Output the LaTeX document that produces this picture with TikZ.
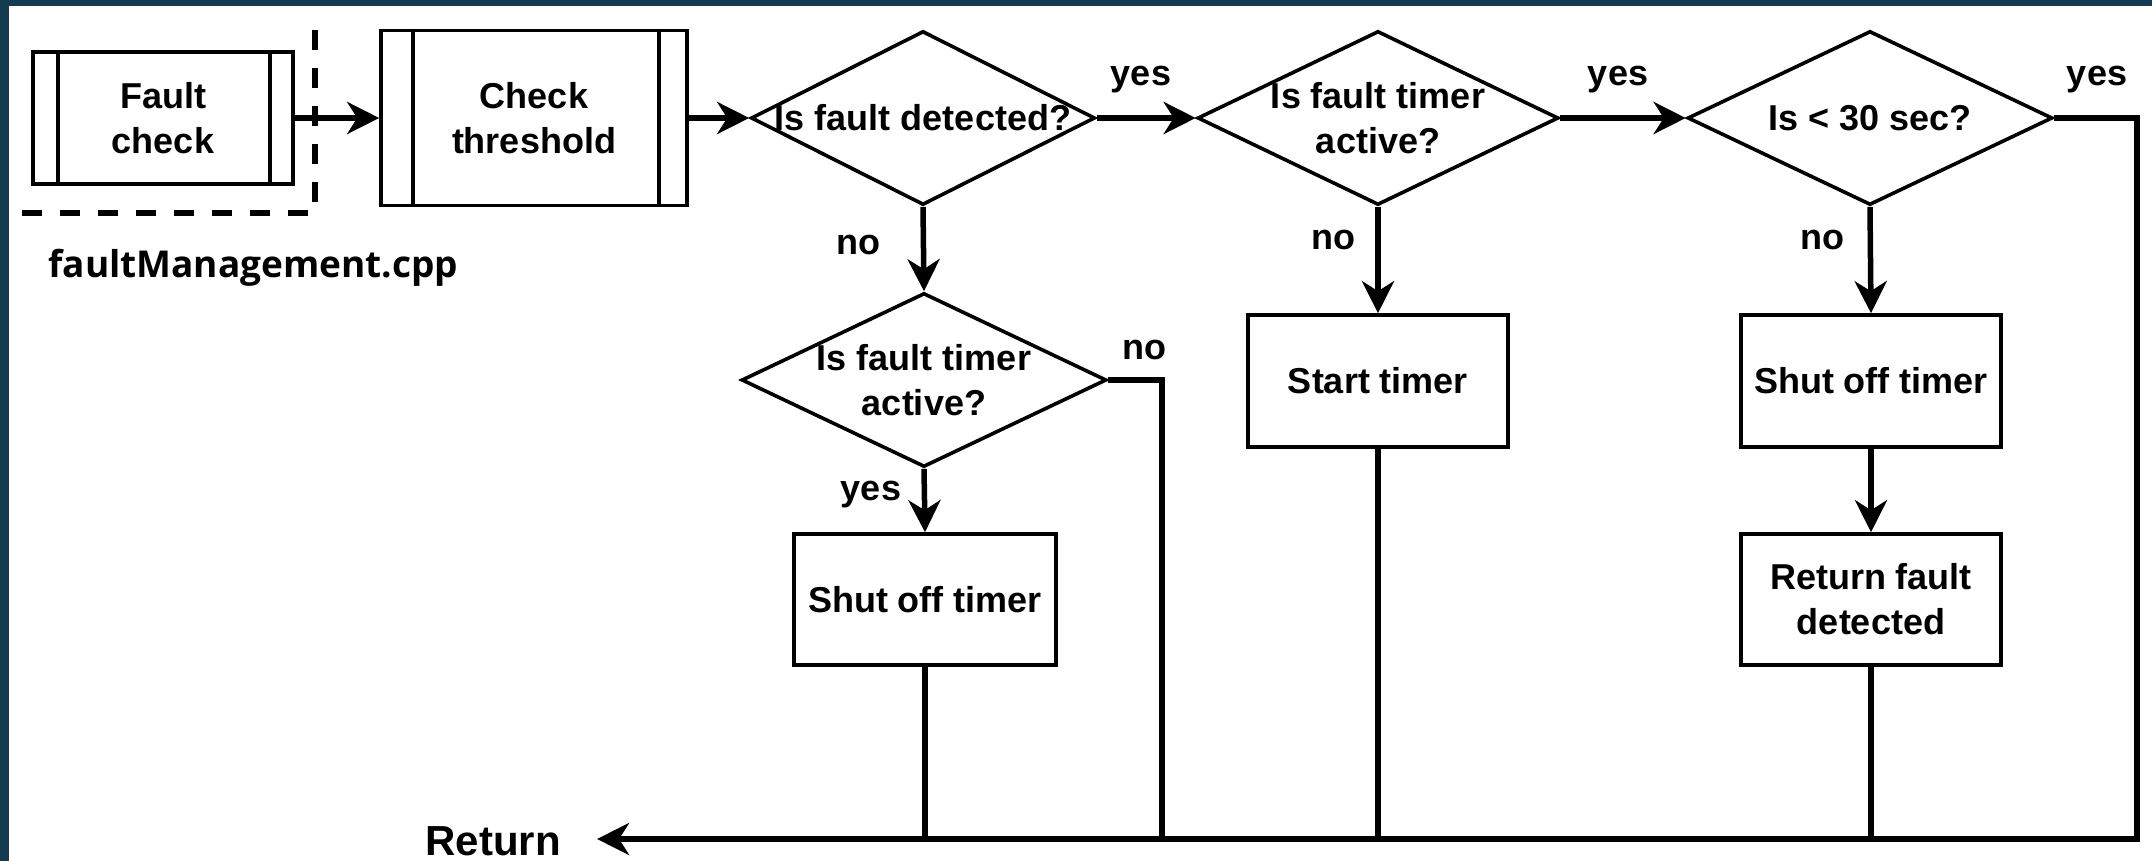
\documentclass[tikz,border=0pt]{standalone}
\usepackage{fontspec}
\setmainfont{Liberation Sans}
\newfontfamily\capfont{Open Sans}
\usetikzlibrary{arrows.meta,shapes.geometric}
\definecolor{framecol}{RGB}{20,59,82}

\tikzset{
  every node/.style={font=\bfseries\fontsize{18}{22.5}\selectfont, text=black, align=center},
  procbox/.style={draw, line width=1.8pt, fill=white, inner sep=0pt},
  decision/.style={diamond, draw, line width=1.8pt, fill=white, inner sep=0pt},
  conn/.style={line width=2.75pt},
  arr/.style={conn, -{Stealth[length=16pt,width=16pt,inset=5pt]}},
  tag/.style={inner sep=1pt},
  bar/.style={line width=1.8pt},
}

\begin{document}
\begin{tikzpicture}[x=0.5pt,y=-0.5pt]
  % canvas and the dark frame along the top and left edges
  \useasboundingbox (0,0) rectangle (2152,861);
  \fill[white] (0,0) rectangle (2152,861);
  \fill[framecol] (0,0) rectangle (9,861);
  \fill[framecol] (0,0) rectangle (2152,6);

  % subprocess blocks
  \node[procbox, minimum width=130pt, minimum height=66pt] (fc) at (163,118) {Fault\\check};
  \draw[bar] ([xshift=13.5pt]fc.north west) -- ([xshift=13.5pt]fc.south west);
  \draw[bar] ([xshift=-12.5pt]fc.north east) -- ([xshift=-12.5pt]fc.south east);

  \node[procbox, minimum width=153pt, minimum height=87.5pt] (ct) at (534,118) {Check\\threshold};
  \draw[bar] ([xshift=17pt]ct.north west) -- ([xshift=17pt]ct.south west);
  \draw[bar] ([xshift=-15pt]ct.north east) -- ([xshift=-15pt]ct.south east);

  % file boundary
  \coordinate (dA) at (315,30);
  \coordinate (dB) at (315,213);
  \coordinate (dC) at (11,213);
  \draw[line width=3pt, dash pattern=on 10pt off 9pt] (dA) -- (dB) -- (dC);
  \node[anchor=base west, inner sep=0pt, font=\capfont\bfseries\fontsize{18.5}{22}\selectfont] (fname) at (48,278) {faultManagement.cpp};

  % decisions
  \node[decision, minimum width=172pt, minimum height=87pt,
        label={[inner sep=0pt]center:Is fault detected?}] (d1) at (923,118) {};
  \node[decision, minimum width=180.5pt, minimum height=87pt,
        label={[inner sep=0pt]center:Is fault timer\\active?}] (d2) at (1378,118) {};
  \node[decision, minimum width=182.5pt, minimum height=87pt,
        label={[inner sep=0pt]center:Is < 30 sec?}] (d3) at (1870,118) {};
  \node[decision, minimum width=182.5pt, minimum height=87pt,
        label={[inner sep=0pt]center:Is fault timer\\active?}] (d4) at (924,380) {};

  % actions
  \node[procbox, minimum width=131pt, minimum height=65.5pt] (shutA) at (925,599.5) {Shut off timer};
  \node[procbox, minimum width=130pt, minimum height=66pt] (start) at (1378,381) {Start timer};
  \node[procbox, minimum width=130pt, minimum height=66pt] (shutB) at (1871,381) {Shut off timer};
  \node[procbox, minimum width=130pt, minimum height=65.5pt] (retf) at (1871,599.5) {Return fault\\detected};

  \node[inner sep=0pt, font=\bfseries\fontsize{21}{24}\selectfont] (ret) at (493,841) {Return};

  % routing points
  \coordinate (c1) at (2137,118);
  \coordinate (c2) at (2137,839);
  \coordinate (n4) at (1162,380);

  % main flow
  \draw[arr] (fc) -- (ct);
  \draw[arr] (ct.east) -- (d1.west);
  \draw[arr] (d1.east) -- (d2.west);
  \draw[arr] (d2.east) -- (d3.west);
  \draw[arr] (d1.south) -- (d4.north);
  \draw[arr] (d2.south) -- (start.north);
  \draw[arr] (d3.south) -- (shutB.north);
  \draw[arr] (d4.south) -- (shutA.north);
  \draw[arr] (shutB) -- (retf);

  % return bus
  \draw[arr] (d3.east) -- (c1) -- (c2) -- ([xshift=18pt]ret.east |- c2);
  \draw[conn] (d4.east) -- (n4) -- (n4 |- c2);
  \draw[conn] (shutA.south) -- (shutA.south |- c2);
  \draw[conn] (start.south) -- (start.south |- c2);
  \draw[conn] (retf.south) -- (retf.south |- c2);

  % branch labels
  \node[tag] (y1) at (1141,80) {yes};
  \node[tag] (y2) at (1618,80) {yes};
  \node[tag] (y3) at (2097,80) {yes};
  \node[tag] (o1) at (858,245) {no};
  \node[tag] (o2) at (1333,240) {no};
  \node[tag] (o3) at (1822,240) {no};
  \node[tag] (o4) at (1144,350) {no};
  \node[tag] (y4) at (871,495) {yes};
\end{tikzpicture}
\end{document}
